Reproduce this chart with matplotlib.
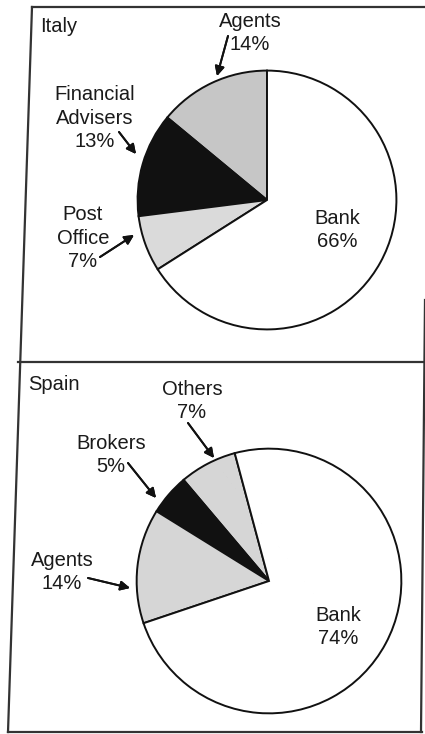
import matplotlib.pyplot as plt
from matplotlib.lines import Line2D

# ---- data ----
italy_labels = ["Agents", "Financial\nAdvisers", "Post\nOffice", "Bank"]
italy_shares = [14, 13, 7, 66]
italy_colors = ["#c6c6c6", "#111111", "#dadada", "#ffffff"]

spain_labels = ["Others", "Brokers", "Agents", "Bank"]
spain_shares = [7, 5, 14, 74]
spain_colors = ["#d6d6d6", "#111111", "#d6d6d6", "#ffffff"]

W, H = 425, 734
plt.rcParams['font.family'] = ['Liberation Sans', 'DejaVu Sans']
fig = plt.figure(figsize=(W / 100, H / 100), dpi=100, facecolor='white')


def px(x, y):
    # pixel position (from top-left) -> figure fraction
    return x / W, 1 - y / H


def pie_panel(cx, cy, r, shares, colors, start):
    ax = fig.add_axes([(cx - r) / W, (H - cy - r) / H, 2 * r / W, 2 * r / H])
    ax.pie(shares, colors=colors, startangle=start, counterclock=True,
           radius=1, wedgeprops=dict(edgecolor='#111111', linewidth=1.4))
    ax.set_xlim(-1.02, 1.02)
    ax.set_ylim(-1.02, 1.02)
    ax.axis('off')
    return ax


def label(text, x, y, ha='center'):
    fig.text(*px(x, y), text, ha=ha, va='center', fontsize=14.5,
             color='#1a1a1a', linespacing=1.27)


def arrow(x0, y0, x1, y1):
    fig.add_artist(plt.annotate('', xy=px(x1, y1), xytext=px(x0, y0),
                                xycoords='figure fraction',
                                arrowprops=dict(arrowstyle='-|>', color='#111111',
                                                lw=1.4, mutation_scale=14,
                                                shrinkA=0, shrinkB=0)))


# ---- Italy ----
pie_panel(267, 200, 132, italy_shares, italy_colors, 90)
label("Italy", 40, 27, ha='left')
label(f"{italy_labels[0]}\n{italy_shares[0]}%", 250, 33)
label(f"{italy_labels[1]}\n{italy_shares[1]}%", 95, 118)
label(f"{italy_labels[2]}\n{italy_shares[2]}%", 83, 238)
label(f"{italy_labels[3]}\n{italy_shares[3]}%", 337, 230)
arrow(228, 36, 217, 76)
arrow(119, 132, 136, 154)
arrow(100, 257, 134, 235)

# ---- Spain ----
pie_panel(269, 581, 135, spain_shares, spain_colors, 105)
label("Spain", 28, 385, ha='left')
label(f"{spain_labels[0]}\n{spain_shares[0]}%", 192, 401)
label(f"{spain_labels[1]}\n{spain_shares[1]}%", 111, 455)
label(f"{spain_labels[2]}\n{spain_shares[2]}%", 62, 572)
label(f"{spain_labels[3]}\n{spain_shares[3]}%", 338, 627)
arrow(188, 423, 214, 458)
arrow(128, 463, 156, 498)
arrow(88, 578, 130, 588)

# ---- panel frame (scan is slightly skewed) ----
frame = [((32, 7), (425, 7)),
         ((32, 7), (8, 732)),
         ((18, 362), (425, 362)),
         ((8, 732), (422, 732)),
         ((425, 300), (421, 732))]
for (xa, ya), (xb, yb) in frame:
    xs, ys = zip(px(xa, ya), px(xb, yb))
    fig.add_artist(Line2D(xs, ys, transform=fig.transFigure,
                          color='#333333', lw=1.6))

plt.savefig("out.png", dpi=100, facecolor='white')
plt.close()
